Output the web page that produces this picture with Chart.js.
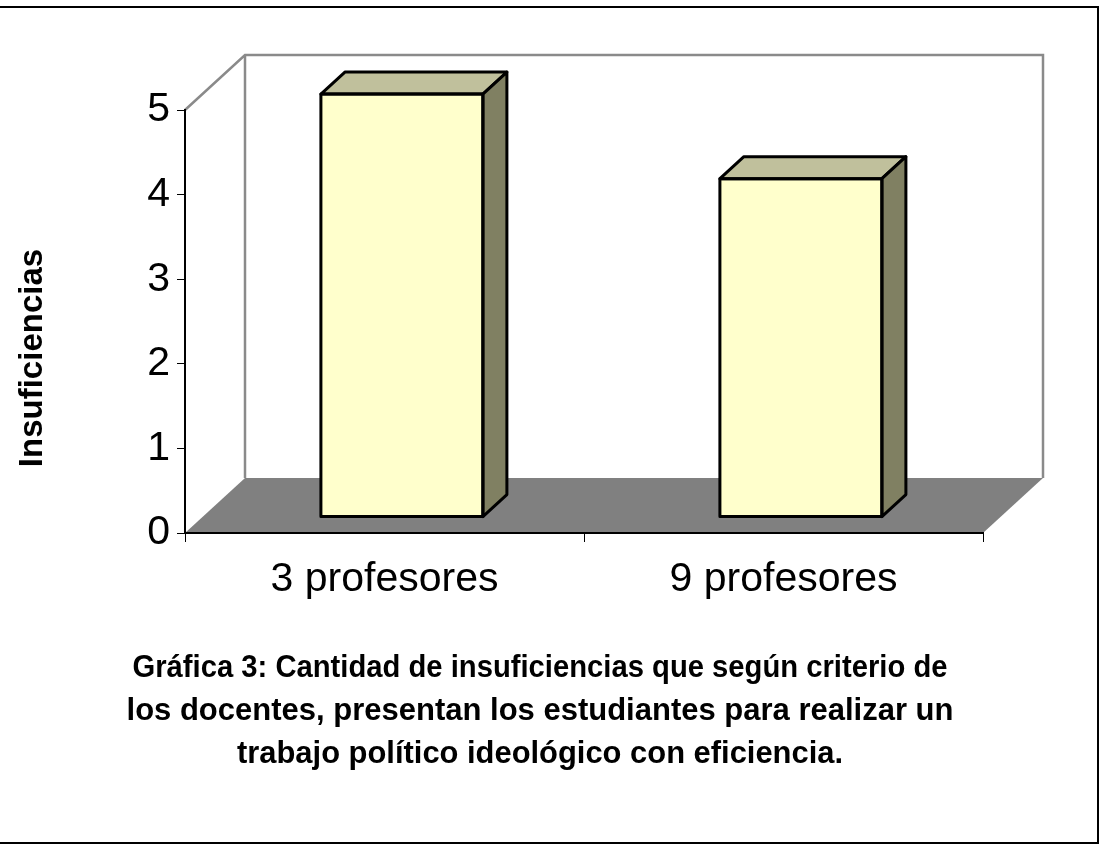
<!DOCTYPE html>
<html>
<head>
<meta charset="utf-8">
<script src="https://cdn.jsdelivr.net/npm/chart.js@4.4.1/dist/chart.umd.min.js"></script>
<style>
  html, body { margin: 0; padding: 0; background: #fff; }
  #wrap { width: 1100px; height: 846px; position: relative; }
</style>
</head>
<body>
<div id="wrap"><canvas id="chart" width="1100" height="846"></canvas></div>
<script>
// data
const categories = ['3 profesores', '9 profesores'];
const insuficiencias = [5, 4];
const yTicks = [0, 1, 2, 3, 4, 5];
const yTitle = 'Insuficiencias';
const caption = [
  'Gráfica 3: Cantidad de insuficiencias que según criterio de',
  'los docentes, presentan los estudiantes para realizar un',
  'trabajo político ideológico con eficiencia.'
];

// 3d look
const DEPTH = { dx: 60, dy: -55 };   // full floor depth
const BAR_POS = 0.29;                // bar front plane, fraction of depth
const BAR_DEPTH = 0.4;               // bar thickness, fraction of depth
const FONT = '"Liberation Sans", Arial, sans-serif';

const threeD = {
  id: 'threeD',
  beforeDraw(chart) {
    const { ctx } = chart;
    const x = chart.scales.x, y = chart.scales.y;
    const y0 = y.getPixelForValue(0);
    const yT = y.getPixelForValue(yTicks[yTicks.length - 1]);
    const L = x.left, R = x.right;

    ctx.save();
    // outer frame
    ctx.strokeStyle = '#000';
    ctx.lineWidth = 2;
    ctx.strokeRect(-5, 7, 1103, 836);

    // floor
    ctx.fillStyle = '#808080';
    ctx.beginPath();
    ctx.moveTo(L, y0);
    ctx.lineTo(R, y0);
    ctx.lineTo(R + DEPTH.dx, y0 + DEPTH.dy);
    ctx.lineTo(L + DEPTH.dx, y0 + DEPTH.dy);
    ctx.closePath();
    ctx.fill();

    // walls
    ctx.strokeStyle = '#8a8a8a';
    ctx.lineWidth = 2.5;
    ctx.beginPath();
    ctx.moveTo(L, yT);
    ctx.lineTo(L + DEPTH.dx, yT + DEPTH.dy);
    ctx.lineTo(R + DEPTH.dx, yT + DEPTH.dy);
    ctx.lineTo(R + DEPTH.dx, y0 + DEPTH.dy);
    ctx.moveTo(L + DEPTH.dx, yT + DEPTH.dy);
    ctx.lineTo(L + DEPTH.dx, y0 + DEPTH.dy);
    ctx.stroke();
    ctx.restore();
  },
  beforeDatasetsDraw(chart) {
    chart.ctx.save();
    chart.ctx.translate(DEPTH.dx * BAR_POS, DEPTH.dy * BAR_POS);
  },
  afterDatasetsDraw(chart) {
    const { ctx } = chart;
    ctx.restore();
    const ox = DEPTH.dx * BAR_POS, oy = DEPTH.dy * BAR_POS;
    const bx = DEPTH.dx * BAR_DEPTH, by = DEPTH.dy * BAR_DEPTH;
    ctx.save();
    ctx.strokeStyle = '#000';
    ctx.lineWidth = 3;
    ctx.lineJoin = 'round';
    chart.getDatasetMeta(0).data.forEach(bar => {
      const p = bar.getProps(['x', 'y', 'base', 'width'], true);
      const l = p.x - p.width / 2 + ox, r = p.x + p.width / 2 + ox;
      const t = p.y + oy, b = p.base + oy;
      // top
      ctx.fillStyle = '#c0c09c';
      ctx.beginPath();
      ctx.moveTo(l, t);
      ctx.lineTo(l + bx, t + by);
      ctx.lineTo(r + bx, t + by);
      ctx.lineTo(r, t);
      ctx.closePath();
      ctx.fill();
      ctx.stroke();
      // side
      ctx.fillStyle = '#808062';
      ctx.beginPath();
      ctx.moveTo(r, t);
      ctx.lineTo(r + bx, t + by);
      ctx.lineTo(r + bx, b + by);
      ctx.lineTo(r, b);
      ctx.closePath();
      ctx.fill();
      ctx.stroke();
      // front outline
      ctx.strokeRect(l, t, r - l, b - t);
    });
    ctx.restore();
  },
  afterDraw(chart) {
    const { ctx } = chart;
    ctx.save();
    ctx.fillStyle = '#000';
    // axis title
    ctx.translate(33, 358);
    ctx.rotate(-Math.PI / 2);
    ctx.font = 'bold 33px ' + FONT;
    ctx.textAlign = 'center';
    ctx.textBaseline = 'middle';
    ctx.fillText(yTitle, 0, 0);
    ctx.restore();

    // caption
    ctx.save();
    ctx.fillStyle = '#000';
    ctx.font = 'bold 31px ' + FONT;
    ctx.textAlign = 'center';
    ctx.textBaseline = 'alphabetic';
    const widths = [815, 835, 606];
    caption.forEach((line, i) => {
      ctx.fillText(line, 540, 677 + i * 43, widths[i]);
    });
    ctx.restore();
  }
};

const ctx = document.getElementById('chart').getContext('2d');
new Chart(ctx, {
  type: 'bar',
  data: {
    labels: categories,
    datasets: [{
      data: insuficiencias,
      backgroundColor: '#ffffcc',
      borderColor: '#000',
      borderWidth: 0,
      barPercentage: 0.406,
      categoryPercentage: 1,
      clip: false
    }]
  },
  options: {
    responsive: false,
    animation: false,
    layout: { padding: { left: 0, right: 117, top: 110, bottom: 213 } },
    plugins: {
      legend: { display: false },
      tooltip: { enabled: false },
      title: { display: false }
    },
    scales: {
      x: {
        offset: true,
        grid: { offset: true, drawOnChartArea: false, tickLength: 9, color: '#000' },
        border: { color: '#000', width: 2 },
        ticks: { color: '#000', font: { size: 41, family: FONT }, padding: 13 },
        afterFit(s) { s.height = 100; }
      },
      y: {
        min: yTicks[0],
        max: yTicks[yTicks.length - 1],
        afterBuildTicks(s) { s.ticks = yTicks.map(v => ({ value: v })); },
        grid: { drawOnChartArea: false, tickLength: 8, color: '#000' },
        border: { color: '#000', width: 2 },
        ticks: { color: '#000', font: { size: 41, family: FONT }, padding: 7 },
        afterFit(s) { s.width = 185; }
      }
    }
  },
  plugins: [threeD]
});
</script>
</body>
</html>
